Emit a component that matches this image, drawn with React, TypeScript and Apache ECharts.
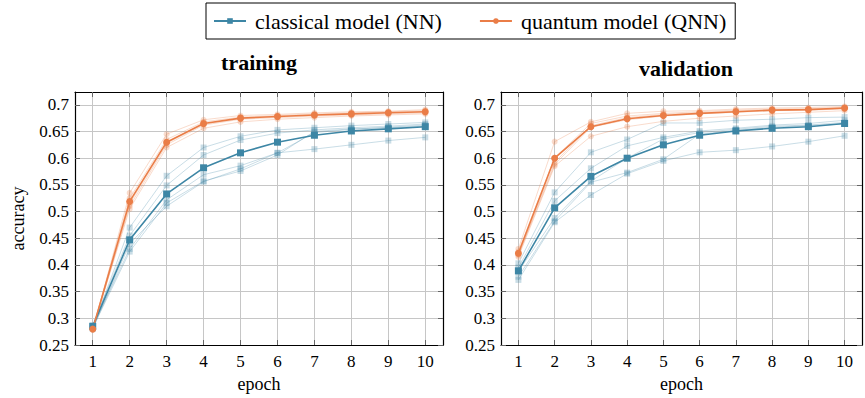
import React, { useEffect, useRef } from "react";
import * as echarts from "echarts";

const epochs = [1, 2, 3, 4, 5, 6, 7, 8, 9, 10];
const yTicks = [0.25, 0.3, 0.35, 0.4, 0.45, 0.5, 0.55, 0.6, 0.65, 0.7];

const trainClassicalMean = [0.285, 0.447, 0.533, 0.582, 0.61, 0.63, 0.643, 0.651, 0.655, 0.659];
const trainQuantumMean = [0.28, 0.519, 0.63, 0.665, 0.675, 0.678, 0.681, 0.683, 0.685, 0.687];
const valClassicalMean = [0.389, 0.507, 0.566, 0.6, 0.625, 0.643, 0.651, 0.656, 0.659, 0.665];
const valQuantumMean = [0.422, 0.6, 0.659, 0.674, 0.68, 0.684, 0.687, 0.69, 0.691, 0.694];

const trainClassicalRuns = [
  [0.283, 0.47, 0.567, 0.62, 0.641, 0.653, 0.657, 0.661, 0.664, 0.667],
  [0.287, 0.455, 0.549, 0.606, 0.634, 0.647, 0.653, 0.657, 0.66, 0.664],
  [0.285, 0.43, 0.522, 0.569, 0.586, 0.61, 0.648, 0.654, 0.658, 0.662],
  [0.282, 0.425, 0.516, 0.557, 0.576, 0.606, 0.65, 0.655, 0.657, 0.66],
  [0.28, 0.44, 0.51, 0.556, 0.58, 0.61, 0.617, 0.625, 0.633, 0.639],
];
const trainQuantumRuns = [
  [0.278, 0.535, 0.645, 0.672, 0.68, 0.682, 0.685, 0.687, 0.688, 0.691],
  [0.28, 0.525, 0.635, 0.668, 0.677, 0.68, 0.683, 0.685, 0.687, 0.689],
  [0.282, 0.515, 0.628, 0.664, 0.675, 0.678, 0.681, 0.683, 0.685, 0.687],
  [0.279, 0.51, 0.625, 0.662, 0.673, 0.676, 0.679, 0.681, 0.683, 0.685],
  [0.281, 0.505, 0.62, 0.656, 0.668, 0.673, 0.676, 0.679, 0.681, 0.683],
];
const valClassicalRuns = [
  [0.403, 0.536, 0.611, 0.635, 0.666, 0.666, 0.671, 0.673, 0.676, 0.677],
  [0.395, 0.52, 0.581, 0.623, 0.639, 0.651, 0.656, 0.662, 0.665, 0.671],
  [0.388, 0.488, 0.557, 0.6, 0.636, 0.648, 0.654, 0.66, 0.662, 0.667],
  [0.378, 0.482, 0.555, 0.573, 0.598, 0.645, 0.652, 0.658, 0.661, 0.664],
  [0.372, 0.48, 0.531, 0.571, 0.595, 0.611, 0.615, 0.622, 0.631, 0.642],
];
const valQuantumRuns = [
  [0.43, 0.631, 0.668, 0.684, 0.688, 0.689, 0.692, 0.694, 0.695, 0.697],
  [0.425, 0.601, 0.665, 0.679, 0.684, 0.687, 0.69, 0.692, 0.693, 0.695],
  [0.42, 0.592, 0.661, 0.676, 0.682, 0.685, 0.688, 0.69, 0.691, 0.693],
  [0.418, 0.588, 0.658, 0.672, 0.679, 0.683, 0.686, 0.689, 0.69, 0.692],
  [0.415, 0.585, 0.641, 0.659, 0.669, 0.675, 0.679, 0.683, 0.686, 0.689],
];

const BLUE = "#3d86a5";
const ORANGE = "#ea7d47";
const FONT = "'Liberation Serif', 'DejaVu Serif', serif";
const NN = "classical model (NN)";
const QNN = "quantum model (QNN)";

function line(name: string, vals: number[], color: string, symbol: string, faint: boolean, idx: number) {
  return {
    type: "line",
    name,
    xAxisIndex: idx * 2,
    yAxisIndex: idx * 2,
    data: epochs.map((e, i) => [e, vals[i]]),
    symbol,
    symbolSize: faint ? 6 : 7,
    lineStyle: { color, width: faint ? 1 : 1.6, opacity: faint ? 0.28 : 1 },
    itemStyle: { color, opacity: faint ? 0.28 : 1 },
    z: faint ? 2 : 3,
    silent: true,
  };
}

function axesFor(gi: number, showYName: boolean) {
  const tickStyle = { show: true, inside: true, length: 5, lineStyle: { color: "#666", width: 1 } };
  const xBase = { type: "value", gridIndex: gi, min: 0.52, max: 10.48 };
  const yBase = { type: "value", gridIndex: gi, min: 0.25, max: 0.724 };
  const xAxes = [
    {
      ...xBase,
      position: "bottom",
      name: "epoch",
      nameLocation: "middle",
      nameGap: 30,
      nameTextStyle: { fontFamily: FONT, fontSize: 18, color: "#000" },
      axisLine: { show: true, lineStyle: { color: "#000", width: 1.2 } },
      axisTick: { ...tickStyle, customValues: epochs },
      axisLabel: { customValues: epochs, fontFamily: FONT, fontSize: 17, color: "#000", margin: 8 },
      splitLine: { show: true, lineStyle: { color: "#c6c6c6", width: 1 } },
    },
    {
      ...xBase,
      position: "top",
      axisLine: { show: true, lineStyle: { color: "#000", width: 1.2 } },
      axisTick: { ...tickStyle, customValues: epochs },
      axisLabel: { show: false, customValues: epochs },
      splitLine: { show: false },
    },
  ];
  const yAxes = [
    {
      ...yBase,
      position: "left",
      name: showYName ? "accuracy" : "",
      nameLocation: "middle",
      nameGap: 48,
      nameTextStyle: { fontFamily: FONT, fontSize: 18, color: "#000" },
      axisLine: { show: true, lineStyle: { color: "#000", width: 1.2 } },
      axisTick: { ...tickStyle, customValues: yTicks },
      axisLabel: {
        customValues: yTicks,
        fontFamily: FONT,
        fontSize: 17,
        color: "#000",
        margin: 6,
        formatter: (v: number) => String(+v.toFixed(3)),
      },
      splitLine: { show: true, lineStyle: { color: "#c6c6c6", width: 1 } },
    },
    {
      ...yBase,
      position: "right",
      axisLine: { show: true, lineStyle: { color: "#000", width: 1.2 } },
      axisTick: { ...tickStyle, customValues: yTicks },
      axisLabel: { show: false, customValues: yTicks },
      splitLine: { show: false },
    },
  ];
  return { xAxes, yAxes };
}

export default function App() {
  const ref = useRef<HTMLDivElement>(null);
  useEffect(() => {
    if (!ref.current) return;
    const chart = echarts.init(ref.current, undefined, { renderer: "svg" });
    const a0 = axesFor(0, true);
    const a1 = axesFor(1, false);
    const series: any[] = [];
    trainClassicalRuns.forEach((r, i) => series.push(line("nn run t" + i, r, BLUE, "rect", true, 0)));
    trainQuantumRuns.forEach((r, i) => series.push(line("qnn run t" + i, r, ORANGE, "circle", true, 0)));
    valClassicalRuns.forEach((r, i) => series.push(line("nn run v" + i, r, BLUE, "rect", true, 1)));
    valQuantumRuns.forEach((r, i) => series.push(line("qnn run v" + i, r, ORANGE, "circle", true, 1)));
    series.push(line(NN, trainClassicalMean, BLUE, "rect", false, 0));
    series.push(line(QNN, trainQuantumMean, ORANGE, "circle", false, 0));
    series.push(line(NN, valClassicalMean, BLUE, "rect", false, 1));
    series.push(line(QNN, valQuantumMean, ORANGE, "circle", false, 1));

    chart.setOption({
      animation: false,
      backgroundColor: "#fff",
      textStyle: { fontFamily: FONT },
      legend: {
        data: [NN, QNN],
        left: 206,
        top: 3,
        padding: [7, 9, 7, 7],
        itemGap: 37,
        itemWidth: 32,
        itemHeight: 7,
        borderColor: "#000",
        borderWidth: 1,
        borderRadius: 0,
        textStyle: { fontFamily: FONT, fontSize: 22, color: "#000", padding: [0, 0, 0, 4] },
      },
      grid: [
        { left: 75, right: 422, top: 92, bottom: 52 },
        { left: 501, right: 3, top: 92, bottom: 52 },
      ],
      xAxis: [...a0.xAxes, ...a1.xAxes],
      yAxis: [...a0.yAxes, ...a1.yAxes],
      graphic: [
        {
          type: "text",
          x: 259,
          y: 62,
          style: { text: "training", fontFamily: FONT, fontSize: 22, fontWeight: "bold", fill: "#000", textAlign: "center", textVerticalAlign: "middle" },
        },
        {
          type: "text",
          x: 686,
          y: 68,
          style: { text: "validation", fontFamily: FONT, fontSize: 22, fontWeight: "bold", fill: "#000", textAlign: "center", textVerticalAlign: "middle" },
        },
      ],
      series,
    });
    return () => chart.dispose();
  }, []);
  return <div ref={ref} style={{ width: 865, height: 398, position: "absolute", left: 0, top: 0 }} />;
}
